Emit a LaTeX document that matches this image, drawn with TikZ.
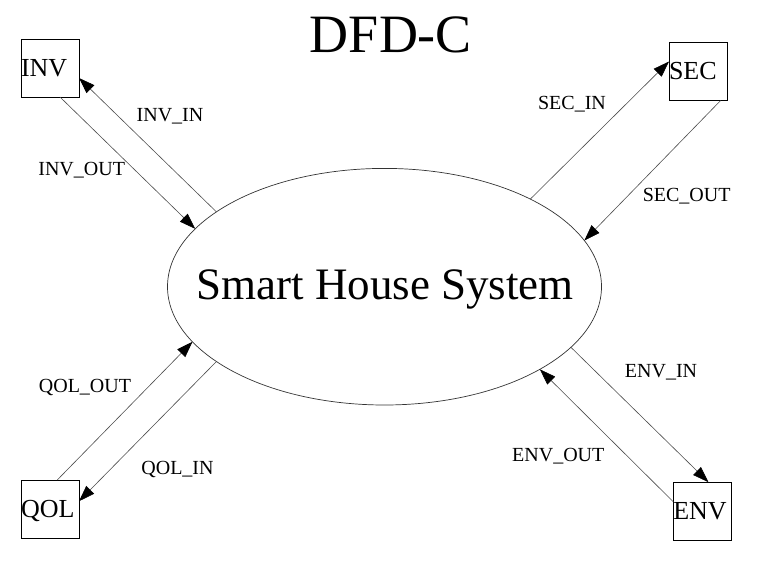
\documentclass[tikz,border=0pt]{standalone}
\usepackage{fontspec}
\setmainfont{Liberation Serif}
\usetikzlibrary{arrows.meta,shapes.geometric}
\tikzset{
  ent/.style={draw=black,line width=0.8pt,rectangle,inner sep=0pt,outer sep=0pt,
    minimum height=58pt,text width=58pt,align=left,text height=16pt,text depth=0pt,
    font=\fontsize{26}{28}\selectfont},
  sysell/.style={draw=black!80,line width=0.7pt,ellipse,inner sep=0pt,outer sep=0pt,
    minimum width=434pt,minimum height=236.6pt},
  flow/.style={draw=black!70,line width=0.6pt,-{Triangle[length=16pt,width=11pt,color=black]}},
  lbl/.style={font=\fontsize{20}{22}\selectfont,anchor=base,inner sep=0pt}
}
\begin{document}
\begin{tikzpicture}[x=1pt,y=-1pt]
\useasboundingbox (0,0) rectangle (760,562);
\node[font=\fontsize{54}{60}\selectfont,anchor=base,inner sep=0pt] (title) at (391,52.7) {DFD-C};
\node[sysell] (sys) at (384.5,286.7) {};
\node[font=\fontsize{45}{50}\selectfont,anchor=base,inner sep=0pt] (systext) at (385,299.3) {Smart House System};
\node[ent] (inv) at (50,68) {INV};
\node[ent] (sec) at (698,71.5) {SEC};
\node[ent] (qol) at (50,509) {QOL};
\node[ent] (env) at (702.3,511.2) {ENV};
% flows
\draw[flow] (inv.289) -- (sys.163.8);
\draw[flow] (sys.156.6) -- (inv.341.7);
\draw[flow] (sys.31) -- (sec.161.1);
\draw[flow] (sec.308.6) -- (sys.13.8);
\draw[flow] (qol.76.9) -- (sys.196.8);
\draw[flow] (sys.204.7) -- (qol.15.5);
\draw[flow] (sys.342.3) -- (env.78.3);
\draw[flow] (env.162.9) -- (sys.332.3);
% labels
\node[lbl] (linvin) at (170,121.7) {INV\_IN};
\node[lbl] (linvout) at (81.7,175) {INV\_OUT};
\node[lbl] (lsecin) at (572,109) {SEC\_IN};
\node[lbl] (lsecout) at (686.7,201.7) {SEC\_OUT};
\node[lbl] (lqolout) at (85,392.3) {QOL\_OUT};
\node[lbl] (lqolin) at (177.5,474) {QOL\_IN};
\node[lbl] (lenvin) at (661,377.3) {ENV\_IN};
\node[lbl] (lenvout) at (558.3,461) {ENV\_OUT};
\end{tikzpicture}
\end{document}
